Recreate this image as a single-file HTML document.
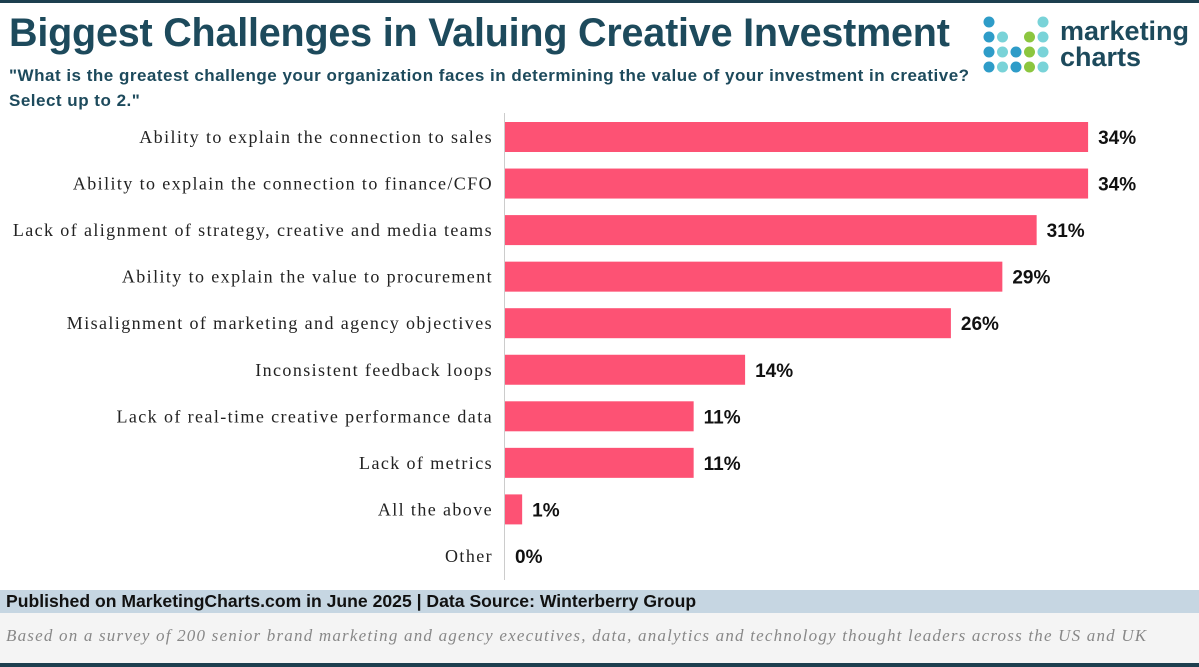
<!DOCTYPE html>
<html><head><meta charset="utf-8"><style>
body{margin:0;width:1199px;height:667px;background:#fff;overflow:hidden;position:relative;font-family:"Liberation Sans",sans-serif}
.abs{position:absolute}
</style></head><body>
<div class="abs" style="left:0;top:0;width:1199px;height:3px;background:#1d3f4f"></div>
<div class="abs" style="left:9px;top:11px;font-size:39.5px;font-weight:bold;color:#1d4a5c;letter-spacing:-0.2px">Biggest Challenges in Valuing Creative Investment</div>
<div class="abs" style="left:9px;top:63px;width:990px;font-size:17px;font-weight:bold;color:#1d4a5c;line-height:25px;letter-spacing:0.5px">"What is the greatest challenge your organization faces in determining the value of your investment in creative?<br>Select up to 2."</div>
<svg class="abs" style="left:975px;top:8px" width="224" height="70">
<g id="dots"></g>
<text x="85" y="32" font-family="Liberation Sans,sans-serif" font-weight="bold" font-size="27" fill="#1d4a5c">marketing</text>
<text x="85" y="58" font-family="Liberation Sans,sans-serif" font-weight="bold" font-size="27" fill="#1d4a5c">charts</text>
</svg>
<div class="abs" style="left:0;top:590px;width:1199px;height:23px;background:#c6d6e2;font-size:17.6px;font-weight:bold;color:#111;line-height:23px;padding-left:6px;box-sizing:border-box">Published on MarketingCharts.com in June 2025 | Data Source: Winterberry Group</div>
<div class="abs" style="left:0;top:613px;width:1199px;height:50px;background:#f4f4f4;font-size:17px;font-style:italic;color:#888;padding:13px 0 0 6px;box-sizing:border-box;font-family:'Liberation Serif',serif;letter-spacing:1.2px;white-space:nowrap">Based on a survey of 200 senior brand marketing and agency executives, data, analytics and technology thought leaders across the US and UK</div>
<div class="abs" style="left:0;top:663px;width:1199px;height:4px;background:#1d3f4f"></div>
<svg class="abs" id="chart" style="left:0;top:0" width="1199" height="590"></svg>
<script>
const categories=["Ability to explain the connection to sales","Ability to explain the connection to finance/CFO","Lack of alignment of strategy, creative and media teams","Ability to explain the value to procurement","Misalignment of marketing and agency objectives","Inconsistent feedback loops","Lack of real-time creative performance data","Lack of metrics","All the above","Other"];
const values=[34,34,31,29,26,14,11,11,1,0];
const NS="http://www.w3.org/2000/svg";
const svg=document.getElementById('chart');
const x0=505,pxPer=17.15,y0=137,step=46.55,bh=30;
const xs=v=>x0+v*pxPer, ys=i=>y0+i*step;
function mk(t,a){const e=document.createElementNS(NS,t);for(const k in a)e.setAttribute(k,a[k]);svg.appendChild(e);return e;}
categories.forEach((c,i)=>{
 const r=mk('rect',{x:x0,y:ys(i)-bh/2,width:Math.max(0,xs(values[i])-x0),height:bh,fill:'#fd5274'});
 
 
 const l=mk('text',{x:493,y:ys(i)+6,'text-anchor':'end','font-family':'Liberation Serif,serif','font-size':18,'letter-spacing':1.4,fill:'#222'});
 l.textContent=c;
 
 
 const v=mk('text',{x:xs(values[i])+10,y:ys(i)+7,'font-family':'Liberation Sans,sans-serif','font-weight':'bold','font-size':19,fill:'#111'});
 v.textContent=values[i]+'%';
 
 
});
const ax=mk('line',{x1:504.5,x2:504.5,y1:113,y2:580,stroke:'#ccc','stroke-width':1});


const dots=[[0,0,'#2e9cc8'],[0,4,'#79d3d8'],[1,0,'#2e9cc8'],[1,1,'#79d3d8'],[1,3,'#8cc63f'],[1,4,'#79d3d8'],[2,0,'#2e9cc8'],[2,1,'#79d3d8'],[2,2,'#2e9cc8'],[2,3,'#8cc63f'],[2,4,'#79d3d8'],[3,0,'#2e9cc8'],[3,1,'#79d3d8'],[3,2,'#2e9cc8'],[3,3,'#8cc63f'],[3,4,'#79d3d8']];
const g=document.getElementById('dots');
dots.forEach(d=>{const c=document.createElementNS(NS,'circle');c.setAttribute('cx',14+d[1]*13.5);c.setAttribute('cy',14+d[0]*15);c.setAttribute('r',5.5);c.setAttribute('fill',d[2]);g.appendChild(c);});
</script>
</body></html>
